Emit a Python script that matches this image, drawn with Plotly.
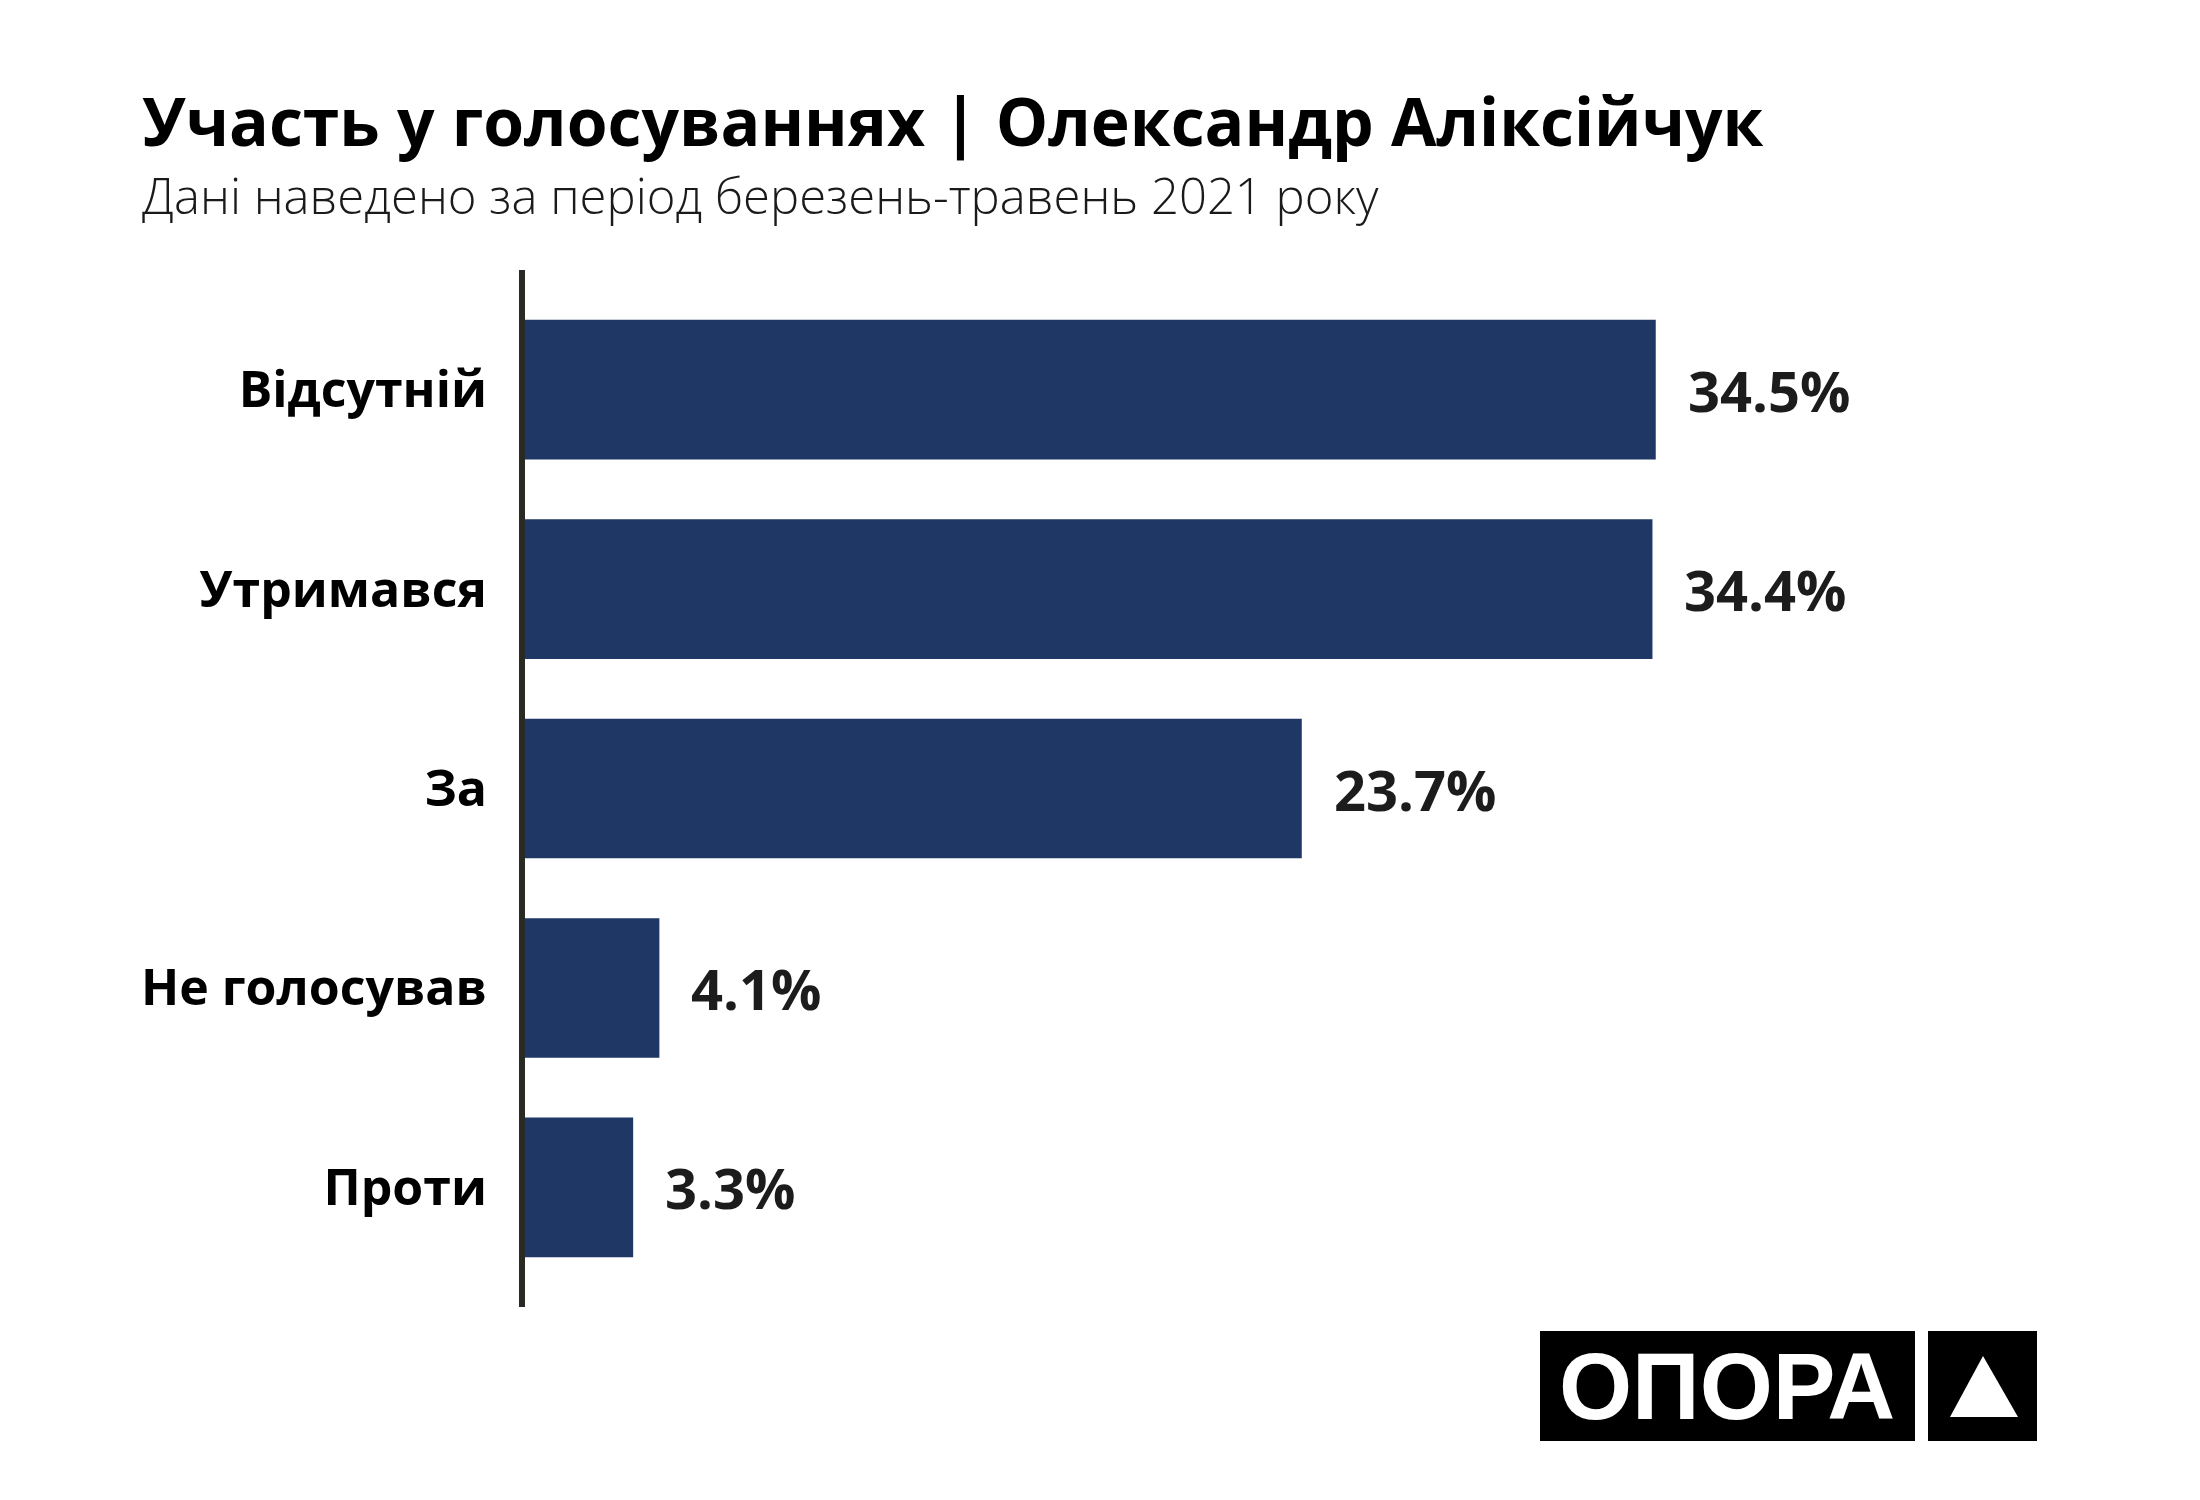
import plotly.graph_objects as go

# vote participation, March-May 2021
categories = ["Відсутній", "Утримався", "За", "Не голосував", "Проти"]
shares = [34.5, 34.4, 23.7, 4.1, 3.3]
share_labels = ["34.5%", "34.4%", "23.7%", "4.1%", "3.3%"]

title_text = "Участь у голосуваннях | Олександр Аліксійчук"
subtitle_text = "Дані наведено за період березень-травень 2021 року"

W, H = 2200, 1500
OFF = 8  # page body margin
ML, MT = 525 - OFF, 270 - OFF
PLOT_W, PLOT_H = 1311, 1037
MR = W - ML - PLOT_W
MB = H - MT - PLOT_H
BAR_COLOR = "#1f3765"
FONT = "Open Sans"


def px_x(px):
    # page pixel -> paper x
    return (px - OFF - ML) / PLOT_W


def px_y(py):
    # page pixel -> paper y
    return (MT + PLOT_H - (py - OFF)) / PLOT_H


fig = go.Figure(
    go.Bar(
        x=shares,
        y=categories,
        orientation="h",
        marker_color=BAR_COLOR,
        marker_line_width=0,
        hoverinfo="skip",
    )
)

# value labels to the right of each bar
for cat, val, lab in zip(categories, shares, share_labels):
    fig.add_annotation(
        x=val, y=cat, xref="x", yref="y",
        text=lab, showarrow=False,
        xanchor="left", yanchor="middle", xshift=30,
        font=dict(family=FONT, size=56, color="#1c1c1c", weight="bold"),
    )

fig.add_annotation(
    x=px_x(140), y=px_y(120), xref="paper", yref="paper",
    text=title_text, showarrow=False, xanchor="left", yanchor="middle",
    font=dict(family=FONT, size=66, color="#000000", weight="bold"),
)
fig.add_annotation(
    x=px_x(140), y=px_y(195), xref="paper", yref="paper",
    text=subtitle_text, showarrow=False, xanchor="left", yanchor="middle",
    font=dict(family=FONT, size=49, color="#1a1a1a", weight=300),
)

# OPORA logo
fig.add_shape(type="rect", xref="paper", yref="paper",
              x0=px_x(1540), x1=px_x(1915), y0=px_y(1441), y1=px_y(1331),
              fillcolor="#000000", line_width=0, layer="above")
fig.add_shape(type="rect", xref="paper", yref="paper",
              x0=px_x(1928), x1=px_x(2037), y0=px_y(1441), y1=px_y(1331),
              fillcolor="#000000", line_width=0, layer="above")
tri = "M {:.5f} {:.5f} L {:.5f} {:.5f} L {:.5f} {:.5f} Z".format(
    px_x(1983), px_y(1356), px_x(1950), px_y(1417), px_x(2018), px_y(1417))
fig.add_shape(type="path", xref="paper", yref="paper", path=tri,
              fillcolor="#ffffff", line_width=0, layer="above")
fig.add_annotation(
    x=px_x(1727), y=px_y(1386), xref="paper", yref="paper",
    text="ОПОРА", showarrow=False, xanchor="center", yanchor="middle",
    font=dict(family="Liberation Sans", size=94, color="#ffffff", weight="bold"),
)

fig.update_layout(
    width=W,
    height=H,
    margin=dict(l=ML, r=MR, t=MT, b=MB),
    paper_bgcolor="#ffffff",
    plot_bgcolor="#ffffff",
    bargap=0.3,
    showlegend=False,
    font=dict(family=FONT),
)
fig.update_xaxes(range=[0, 40], visible=False, fixedrange=True)
fig.update_yaxes(
    categoryorder="array",
    categoryarray=categories[::-1],
    range=[-0.6, 4.6],
    showline=True,
    linecolor="#2a2a24",
    linewidth=6,
    showgrid=False,
    zeroline=False,
    ticks="",
    ticklabelstandoff=22,
    tickfont=dict(family=FONT, size=50, color="#000000", weight="bold"),
    fixedrange=True,
)

fig.write_html("out.html")
